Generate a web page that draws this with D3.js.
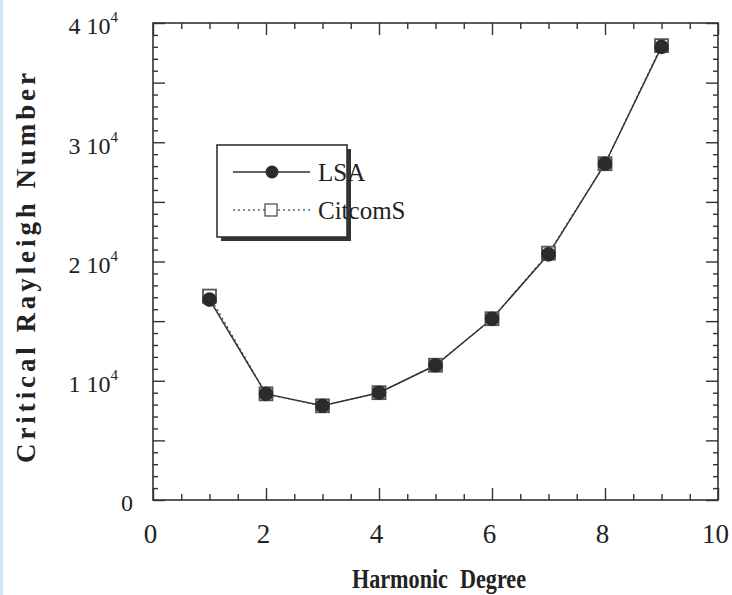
<html>
<head>
<style>
  body { margin: 0; background: #fff; }
  svg text { font-family: "Liberation Serif", "Times New Roman", serif; fill: #222; }
</style>
</head>
<body>
<svg id="chart" width="732" height="595"></svg>
<script src="https://d3js.org/d3.v7.min.js"></script>
<script>
// harmonic degree vs critical Rayleigh number
const degrees = [1, 2, 3, 4, 5, 6, 7, 8, 9]
const lsaValues = [16800, 8900, 7900, 9000, 11300, 15200, 20600, 28200, 38000]
const citcomsValues = [17100, 8900, 7900, 9000, 11300, 15200, 20700, 28200, 38100]
const xTickValues = [0, 2, 4, 6, 8, 10]
const yTickValues = [0, 10000, 20000, 30000, 40000]
const yTickLabels = ['0', '1', '2', '3', '4']
const seriesNames = ['LSA', 'CitcomS']

const svg = d3.select('#chart')
const margin = {top: 23, right: 14, bottom: 95, left: 153}
const W = +svg.attr('width'), H = +svg.attr('height')
const innerW = W - margin.left - margin.right
const innerH = H - margin.top - margin.bottom

// light blue strip at the left edge of the scan
svg.append('rect').attr('x', 0).attr('y', 0).attr('width', 3).attr('height', H).attr('fill', '#cfe6f6')

const x = d3.scaleLinear().domain([0, 10]).range([0, innerW])
const y = d3.scaleLinear().domain([0, 40000]).range([innerH, 0])

const g = svg.append('g').attr('transform', `translate(${margin.left},${margin.top})`)

const xMinor = d3.range(0, 10.01, 0.5).filter(v => v % 2 !== 0)
const yMinor = d3.range(0, 40001, 1000).filter(v => v % 5000 !== 0)
const yMid = d3.range(0, 40001, 5000)

function styleAxis(sel) {
  sel.select('.domain').remove()
  sel.selectAll('line').attr('stroke', '#333').attr('stroke-width', 1.4)
}

// bottom
g.append('g').attr('transform', `translate(0,${innerH})`)
  .call(d3.axisBottom(x).tickValues(xMinor).tickSize(-6).tickFormat(''))
  .call(styleAxis)
const xAxis = g.append('g').attr('transform', `translate(0,${innerH})`)
  .call(d3.axisBottom(x).tickValues(xTickValues).tickSize(-12).tickPadding(24).tickFormat(d3.format('d')))
  .call(styleAxis)
xAxis.selectAll('text').attr('font-size', 27).attr('dx', -3)
  .style('font-family', '"Liberation Serif", serif').attr('fill', '#222')

// top (mirrored)
g.append('g').call(d3.axisTop(x).tickValues(xMinor).tickSize(-6).tickFormat('')).call(styleAxis)
g.append('g').call(d3.axisTop(x).tickValues(xTickValues).tickSize(-12).tickFormat('')).call(styleAxis)

// left
g.append('g').call(d3.axisLeft(y).tickValues(yMinor).tickSize(-5).tickFormat('')).call(styleAxis)
const yAxis = g.append('g')
  .call(d3.axisLeft(y).tickValues(yMid).tickSize(-12).tickPadding(35).tickFormat(''))
  .call(styleAxis)
yAxis.selectAll('.tick').filter(d => d % 10000 === 0).select('text')
  .attr('font-size', 24).style('font-family', '"Liberation Serif", serif').attr('fill', '#222')
  .attr('dy', '0.45em')
  .each(function (d) {
    const t = d3.select(this)
    const i = yTickValues.indexOf(d)
    if (d === 0) {
      t.attr('dx', 15).text(yTickLabels[i])
    } else {
      t.append('tspan').text(yTickLabels[i] + ' 10')
      t.append('tspan').attr('font-size', 15).attr('dy', '-0.8em').text('4')
    }
  })

// right (mirrored)
g.append('g').attr('transform', `translate(${innerW},0)`)
  .call(d3.axisRight(y).tickValues(yMinor).tickSize(-5).tickFormat('')).call(styleAxis)
g.append('g').attr('transform', `translate(${innerW},0)`)
  .call(d3.axisRight(y).tickValues(yMid).tickSize(-12).tickFormat('')).call(styleAxis)

// frame
g.append('rect').attr('width', innerW).attr('height', innerH)
  .attr('fill', 'none').attr('stroke', '#333').attr('stroke-width', 1.6)

// lines
const line = d3.line().x(d => x(d[0])).y(d => y(d[1]))
const citPts = degrees.map((d, i) => [d, citcomsValues[i]])
const lsaPts = degrees.map((d, i) => [d, lsaValues[i]])

g.append('path').datum(citPts).attr('d', line).attr('fill', 'none')
  .attr('stroke', '#555').attr('stroke-width', 1.3).attr('stroke-dasharray', '2,3')
g.append('path').datum(lsaPts).attr('d', line).attr('fill', 'none')
  .attr('stroke', '#333').attr('stroke-width', 1.5)

const sq = 13
g.selectAll('.cit').data(citPts).enter().append('rect').classed('cit', true)
  .attr('x', d => x(d[0]) - sq / 2).attr('y', d => y(d[1]) - sq / 2)
  .attr('width', sq).attr('height', sq)
  .attr('fill', '#fff').attr('stroke', '#555').attr('stroke-width', 1.8)
g.selectAll('.lsa').data(lsaPts).enter().append('circle').classed('lsa', true)
  .attr('cx', d => x(d[0])).attr('cy', d => y(d[1])).attr('r', 7.3)
  .attr('fill', '#2b2b2b')

// axis titles
svg.append('text').attr('x', 439).attr('y', 588).attr('text-anchor', 'middle')
  .attr('font-size', 27).attr('font-weight', 'bold')
  .attr('textLength', 174).attr('lengthAdjust', 'spacingAndGlyphs')
  .attr('word-spacing', 8)
  .text('Harmonic Degree')
svg.append('text').attr('transform', 'translate(35,268) rotate(-90)').attr('text-anchor', 'middle')
  .attr('font-size', 27).attr('font-weight', 'bold')
  .attr('textLength', 390).attr('lengthAdjust', 'spacing')
  .text('Critical Rayleigh Number')

// legend
const leg = svg.append('g').attr('transform', 'translate(217,145)')
leg.append('rect').attr('x', 4).attr('y', 4).attr('width', 130).attr('height', 92).attr('fill', '#333')
leg.append('rect').attr('width', 130).attr('height', 92).attr('fill', '#fff')
  .attr('stroke', '#333').attr('stroke-width', 1.6)

const rows = leg.selectAll('.row').data(seriesNames).enter().append('g')
  .attr('transform', (d, i) => `translate(0,${27 + i * 38})`)
rows.append('line').attr('x1', 16).attr('x2', 93).attr('y1', 0).attr('y2', 0)
  .attr('stroke', (d, i) => i === 0 ? '#333' : '#666')
  .attr('stroke-width', (d, i) => i === 0 ? 1.5 : 1.3)
  .attr('stroke-dasharray', (d, i) => i === 0 ? null : '2,3')
rows.filter((d, i) => i === 0).append('circle').attr('cx', 55).attr('r', 6.5).attr('fill', '#2b2b2b')
rows.filter((d, i) => i === 1).append('rect').attr('x', 48).attr('y', -6).attr('width', 12).attr('height', 12)
  .attr('fill', '#fff').attr('stroke', '#444').attr('stroke-width', 1.2)
rows.append('text').attr('x', 101).attr('y', 9).attr('font-size', 25).text(d => d)
</script>
</body>
</html>
